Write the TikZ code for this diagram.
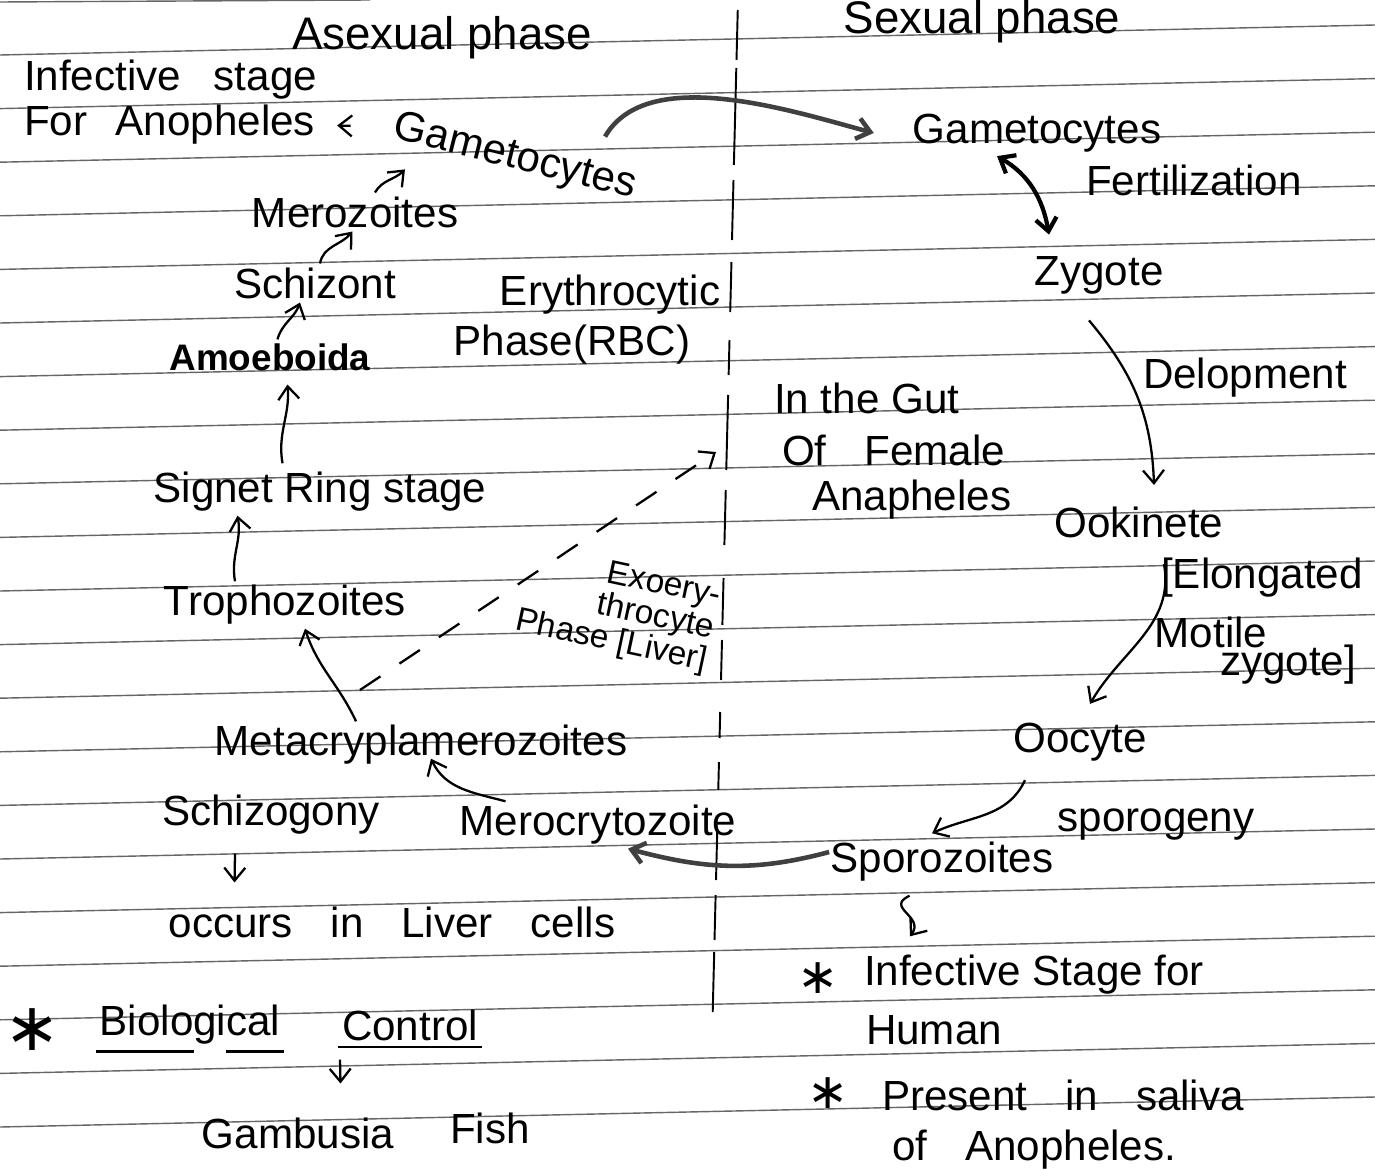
\documentclass[tikz,border=0pt]{standalone}
\usepackage{fontspec}
\setmainfont{Liberation Sans}
\newfontfamily\starfont{DejaVu Sans}
\usetikzlibrary{arrows.meta}
\newcommand{\handfont}{\fontsize{24}{28}\selectfont}
\newcommand{\headfont}{\fontsize{26}{30}\selectfont}
\newcommand{\smallhand}{\fontsize{19}{16}\selectfont}
\newcommand{\wgap}{\hspace{0.9em}}

\begin{document}
\begin{tikzpicture}[x=0.02cm,y=-0.02cm,>={Straight Barb[length=2.6mm,width=4.2mm]},semithick]
\tikzstyle{every node}=[font=\handfont,text=black,inner sep=2pt]
\tikzstyle{ruled}=[draw=black!60,line width=0.8pt]
\tikzstyle{margin}=[draw=black,line width=1.1pt]
\tikzstyle{flow}=[->,draw=black,line width=1.3pt]
\tikzstyle{boldflow}=[->,draw=black!75,line width=2.6pt]
\tikzstyle{dashflow}=[->,draw=black,line width=1.3pt,dash pattern=on 14pt off 13pt]
\tikzstyle{uline}=[draw=black,line width=1.6pt]
\tikzstyle{bullet}=[font=\starfont\fontsize{28}{28}\selectfont]

\useasboundingbox (0,0) rectangle (1375,1169);
\fill[white] (0,0) rectangle (1375,1169);

% ruled paper
\foreach \k in {0,...,20}
  \draw[ruled] (0,{55+53.6*\k}) -- (1375,{25+53.6*\k});
\draw[ruled] (0,2) -- (370,0);

% middle divider
\foreach \a/\b in {10/60,68/165,180/240,262/312,340/375,395/470,490/545,578/625,640/680,712/738,762/790,830/880,895/940,952/1012}
  \draw[margin] ({738-0.025*\a},\a) -- ({738-0.025*\b},\b);

% asexual phase
\node[font=\headfont] (asex) at (442,38) {Asexual phase};
\node[anchor=west] (infect) at (20,80) {Infective\hspace{0.5em} stage};
\node[anchor=west] (forano) at (20,125) {For\hspace{0.4em} Anopheles};
\node[rotate=-14] (gamL) at (515,158) {Gametocytes};
\node (mero) at (355,212) {Merozoites};
\node (schiz) at (315,283) {Schizont};
\node (erythro) at (610,295) {Erythrocytic};
\node (rbc) at (572,345) {Phase(RBC)};
\node[font=\bfseries\fontsize{21}{24}\selectfont] (amoeb) at (270,357) {Amoeboida};
\node (signet) at (320,492) {Signet Ring stage};
\node (troph) at (285,605) {Trophozoites};
\node[font=\smallhand,rotate=-12,align=right] (exo) at (618,610) {Exoery-\\throcyte\\Phase [Liver]};
\node (metacr) at (421,745) {Metacryplamerozoites};
\node (schizog) at (271,815) {Schizogony};
\node (merocry) at (598,825) {Merocrytozoite};
\node (occurs) at (392,922) {occurs\wgap in\wgap Liver\wgap cells};
\node[bullet,font=\starfont\fontsize{38}{38}\selectfont] (star1) at (32,1030) {∗};
\node (biol) at (190,1025) {Biological};
\node (ctrl) at (410,1025) {Control};
\node (gamb) at (298,1133) {Gambusia};
\node (fish) at (490,1128) {Fish};

% sexual phase
\node[font=\headfont] (sex) at (982,22) {Sexual phase};
\node (gamR) at (1037,133) {Gametocytes};
\node (fert) at (1194,180) {Fertilization};
\node (zyg) at (1099,275) {Zygote};
\node (delop) at (1245,378) {Delopment};
\node[anchor=west] (gut1) at (770,398) {In the Gut};
\node[anchor=west] (gut2) at (778,450) {Of\wgap Female};
\node[anchor=west] (gut3) at (808,500) {Anapheles};
\node (ookin) at (1139,522) {Ookinete};
\node (elong) at (1262,578) {[Elongated};
\node (motile) at (1211,632) {Motile};
\node (zyg2) at (1288,665) {zygote]};
\node (oocyte) at (1080,742) {Oocyte};
\node (sporog) at (1156,825) {sporogeny};
\node (sporoz) at (942,862) {Sporozoites};
\node[bullet] (star2) at (818,978) {∗};
\node[anchor=west] (inf2) at (860,975) {Infective Stage for};
\node[anchor=west] (human) at (862,1030) {Human};
\node[bullet] (star3) at (828,1093) {∗};
\node[anchor=west] (present) at (878,1095) {Present\wgap in\wgap saliva};
\node[anchor=west] (ofano) at (888,1150) {of\wgap Anopheles.};

% asexual cycle
\draw[flow,shorten <=0.8cm,shorten >=0.36cm] (gamL.west) -- (forano.east);
\draw[flow] ([xshift=0.4cm]mero.north) to[out=60,in=-135] ([xshift=0.4cm,yshift=-0.4cm]gamL.south west);
\draw[flow] ([xshift=0.1cm]schiz.north) to[out=80,in=-130] ([xshift=-0.05cm]mero.south);
\draw[flow] ([xshift=0.15cm]amoeb.north) to[out=75,in=-110] ([xshift=-0.3cm]schiz.south);
\draw[flow] ([xshift=-0.75cm,yshift=0.1cm]signet.north) to[out=100,in=-85] ([xshift=0.35cm,yshift=-0.2cm]amoeb.south);
\draw[flow] ([xshift=-1cm]troph.north) to[out=100,in=-80] ([xshift=-1.65cm]signet.south);
\draw[flow] ([xshift=-1.3cm]metacr.north) to[out=115,in=-72] ([xshift=0.4cm]troph.south);
\draw[flow] ([xshift=-1.85cm]merocry.north) to[out=165,in=-65] ([xshift=0.2cm,yshift=0.2cm]metacr.south);
\draw[flow] ([xshift=-0.72cm,yshift=-0.3cm]schizog.south) -- ([xshift=-3.15cm,yshift=0.4cm]occurs.north);
\draw[flow] ([xshift=-1.4cm,yshift=-0.3cm]ctrl.south) -- ([xshift=0.85cm,yshift=0.6cm]gamb.north);
\draw[uline] ([yshift=-0.05cm]biol.south west) -- ++(98,0);
\draw[uline] ([yshift=-0.05cm]biol.south east) -- ++(-58,0);
\draw[uline] ([yshift=-0.05cm]ctrl.south west) -- ([yshift=-0.05cm]ctrl.south east);

% exo-erythrocytic to erythrocytic
\coordinate (exoS) at (360,690);
\coordinate (exoE) at (716,452);
\draw[dashflow] (exoS) -- (exoE);

% sexual cycle
\draw[boldflow] ([xshift=-0.8cm,yshift=0.6cm]gamL.north east) to[out=60,in=165,looseness=0.8] ([xshift=-0.7cm]gamR.west);
\draw[<->,line width=2.4pt] ([xshift=-0.8cm]gamR.south) to[out=-30,in=100] ([xshift=-1cm,yshift=0.35cm]zyg.north);
\draw[flow] ([xshift=-0.2cm,yshift=-0.45cm]zyg.south) to[out=-50,in=92] ([xshift=0.3cm,yshift=0.35cm]ookin.north);
\draw[flow] ([xshift=0.5cm,yshift=-0.45cm]ookin.south) to[out=-80,in=60] ([xshift=0.2cm,yshift=0.3cm]oocyte.north);
\draw[flow] ([xshift=-1.1cm,yshift=-0.3cm]oocyte.south) to[out=-115,in=25] ([xshift=-0.2cm,yshift=0.1cm]sporoz.north);
\draw[boldflow] ([xshift=0.05cm,yshift=0.2cm]sporoz.west) to[out=-165,in=-15] ([xshift=0.6cm]merocry.south);
\draw[flow] ([xshift=-0.65cm,yshift=-0.2cm]sporoz.south) .. controls +(-25,12) and +(15,-20) .. ([xshift=1cm,yshift=0.3cm]inf2.north west);
\end{tikzpicture}
\end{document}
